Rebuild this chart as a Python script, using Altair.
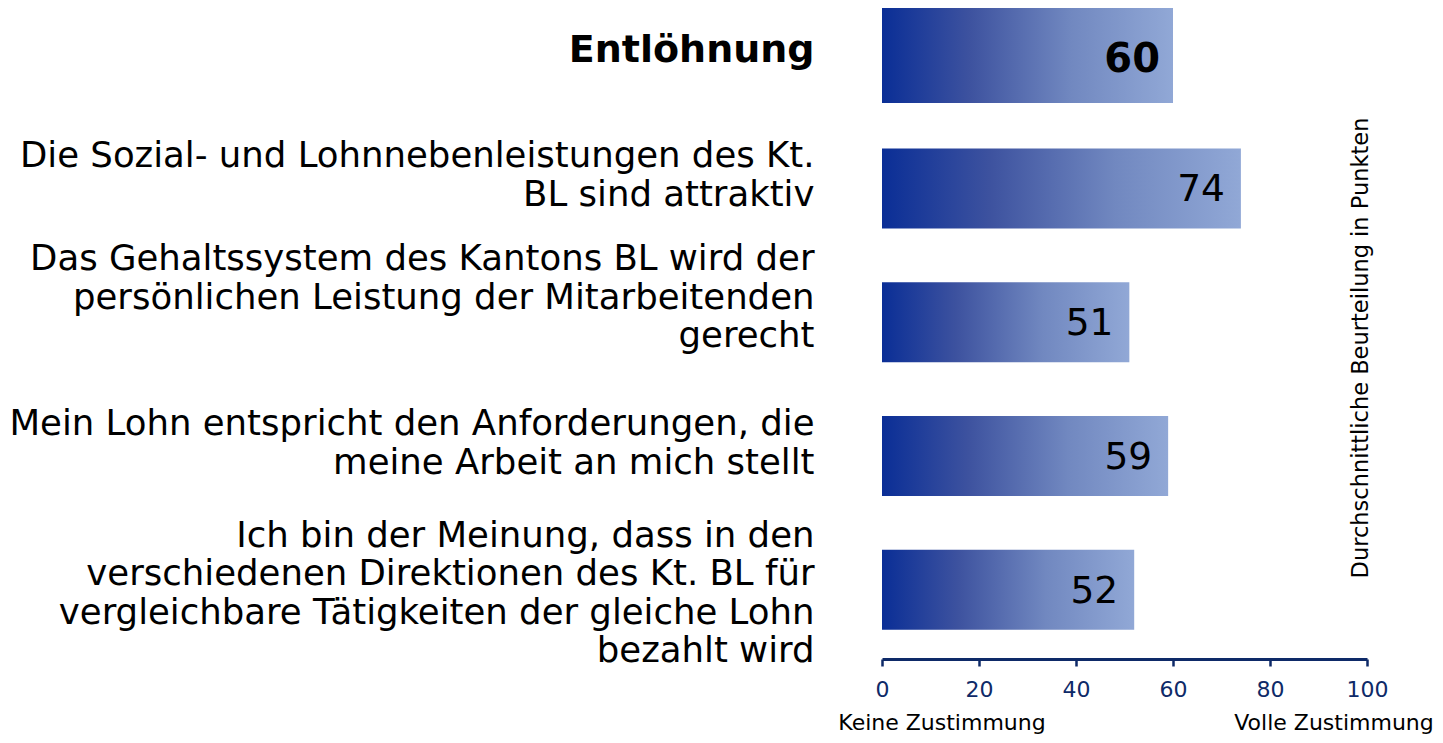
import altair as alt
import pandas as pd

# ---- data ----
categories = [
    "Entlöhnung",
    "Die Sozial- und Lohnnebenleistungen des Kt.\nBL sind attraktiv",
    "Das Gehaltssystem des Kantons BL wird der\npersönlichen Leistung der Mitarbeitenden\ngerecht",
    "Mein Lohn entspricht den Anforderungen, die\nmeine Arbeit an mich stellt",
    "Ich bin der Meinung, dass in den\nverschiedenen Direktionen des Kt. BL für\nvergleichbare Tätigkeiten der gleiche Lohn\nbezahlt wird",
]
scores = [60, 74, 51, 59, 52]
x_ticks = [0, 20, 40, 60, 80, 100]
axis_left_note = "Keine Zustimmung"
axis_right_note = "Volle Zustimmung"
side_title = "Durchschnittliche Beurteilung  in Punkten"
header = "Entlöhnung"

df = pd.DataFrame({"cat": categories, "score": scores})

FONT = "DejaVu Sans"
NAVY = "#0e2a68"

is_header = f"datum.cat == '{header}'"
nlines = "length(split(datum.value, '\\n'))"
label_offset_expr = (
    f"{nlines} == 1 ? -4 : ({nlines} == 2 ? -32 : ({nlines} == 3 ? -63 : -54))"
)

y_enc = alt.Y(
    "cat:N",
    sort=categories,
    scale=alt.Scale(range=[-20.3, 648.7], paddingInner=0, paddingOuter=0),
    axis=alt.Axis(
        title=None,
        domain=False,
        ticks=False,
        labelExpr="split(datum.label, '\\n')",
        labelFont=FONT,
        labelFontSize=alt.condition(f"datum.value == '{header}'", alt.value(38), alt.value(35.5)),
        labelLineHeight=38.5,
        labelColor="black",
        labelAlign="right",
        labelBaseline="middle",
        labelPadding=68,
        labelLimit=900,
        labelOffset={"expr": label_offset_expr},
        labelFontWeight=alt.condition(f"datum.value == '{header}'", alt.value("bold"), alt.value("normal")),
    ),
)

x_enc = alt.X(
    "score:Q",
    scale=alt.Scale(domain=[0, 100], nice=False),
    axis=alt.Axis(
        title=None,
        values=x_ticks,
        grid=False,
        domainColor=NAVY,
        domainWidth=3,
        tickColor=NAVY,
        tickWidth=2.5,
        tickSize=7,
        labelColor=NAVY,
        labelFont=FONT,
        labelFontSize=22,
        labelPadding=13,
        labelFlush=False,
    ),
)

base = alt.Chart(df)

gradient = alt.Gradient(
    gradient="linear",
    stops=[
        alt.GradientStop(color="#0a2e96", offset=0),
        alt.GradientStop(color="#3d529f", offset=0.3),
        alt.GradientStop(color="#7188c0", offset=0.65),
        alt.GradientStop(color="#91a8d6", offset=1),
    ],
    x1=0, x2=1, y1=0, y2=0,
)

bars = base.mark_bar(color=gradient, strokeWidth=0).encode(
    y=y_enc,
    x=x_enc,
    size=alt.condition(is_header, alt.value(97), alt.value(80)),
)

vals_header = base.transform_filter(is_header).mark_text(
    align="right", baseline="middle", dx=-13, dy=5, font=FONT, fontSize=40, fontWeight="bold", color="black"
).encode(y=alt.Y("cat:N", sort=categories), x="score:Q", text="score:Q")

vals_rest = base.transform_filter(f"!({is_header})").mark_text(
    align="right", baseline="middle", dx=-16, dy=2, font=FONT, fontSize=37.5, color="black"
).encode(y=alt.Y("cat:N", sort=categories), x="score:Q", text="score:Q")

one = alt.Data(values=[{}])

note_left = alt.Chart(one).mark_text(
    text=axis_left_note, font=FONT, fontSize=22, color="black", align="center", baseline="middle"
).encode(x=alt.value(60), y=alt.value(715))

note_right = alt.Chart(one).mark_text(
    text=axis_right_note, font=FONT, fontSize=22, color="black", align="center", baseline="middle"
).encode(x=alt.value(452), y=alt.value(715))

side = alt.Chart(one).mark_text(
    text=side_title, font=FONT, fontSize=22.5, color="black", align="center", baseline="middle", angle=270
).encode(x=alt.value(479), y=alt.value(340))

chart = alt.layer(bars, vals_header, vals_rest, note_left, note_right, side).properties(
    width=485,
    height=651,
    padding={"left": 874, "top": 0, "right": 68, "bottom": 76},
    autosize=alt.AutoSizeParams(type="none"),
    background="white",
).configure_view(stroke=None)

chart.save("out.html", embed_options={"renderer": "svg", "actions": False})
